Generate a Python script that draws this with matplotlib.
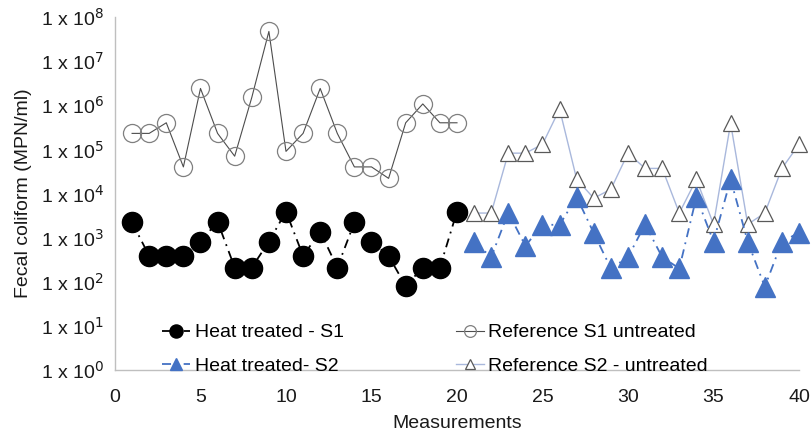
import numpy as np
import matplotlib.pyplot as plt
from matplotlib.ticker import FixedLocator

plt.rcParams['font.family'] = ['Liberation Sans', 'DejaVu Sans']

x_s1 = list(range(1, 21))
x_s2 = list(range(21, 41))

heat_s1 = [2200, 385, 385, 385, 810, 2300, 210, 210, 810, 3900,
           385, 1370, 210, 2200, 810, 385, 80, 210, 210, 3900]
ref_s1 = [2.3e5, 2.3e5, 4e5, 4e4, 2.4e6, 2.3e5, 7e4, 1.5e6, 4.7e7, 9e4,
          2.3e5, 2.4e6, 2.3e5, 4e4, 4e4, 2.2e4, 4e5, 1.07e6, 4e5, 4e5]
heat_s2 = [810, 360, 3700, 650, 1950, 1950, 8300, 1260, 200, 360,
           2000, 360, 200, 8300, 810, 2.1e4, 810, 77, 800, 1300]
ref_s2 = [3600, 3600, 8.2e4, 8.2e4, 1.3e5, 8.2e5, 2.1e4, 7800, 1.25e4, 8.2e4,
          3.7e4, 3.7e4, 3600, 2.1e4, 2000, 3.9e5, 2000, 3600, 3.7e4, 1.3e5]

ytick_vals = [10.0 ** k for k in range(0, 9)]
ytick_labels = [r'1 x 10$^{%d}$' % k for k in range(0, 9)]

fig = plt.figure(figsize=(8.12, 4.34), dpi=100)
ax = fig.add_axes([0.1416, 0.1475, 0.8424, 0.8134])

blue = '#4472c4'
h1, = ax.plot(x_s1, heat_s1, color='black', linestyle=(0, (5, 3, 1, 3)), linewidth=1.3,
              marker='o', markersize=14.5, markerfacecolor='black', markeredgecolor='black',
              label='Heat treated - S1', zorder=3, clip_on=False)
r1, = ax.plot(x_s1, ref_s1, color='#4d4d4d', linestyle='-', linewidth=0.8,
              marker='o', markersize=13, markerfacecolor='none', markeredgecolor='#7f7f7f',
              markeredgewidth=0.9, label='Reference S1 untreated', zorder=2, clip_on=False)
h2, = ax.plot(x_s2, heat_s2, color=blue, linestyle=(0, (5, 3, 1, 3)), linewidth=1.3,
              marker='^', markersize=14, markerfacecolor=blue, markeredgecolor=blue,
              label='Heat treated- S2', zorder=3, clip_on=False)
r2, = ax.plot(x_s2, ref_s2, color='#a9b8dc', linestyle='-', linewidth=1.0,
              marker='^', markersize=12, markerfacecolor='white', markeredgecolor='#595959',
              markeredgewidth=0.9, label='Reference S2 - untreated', zorder=2, clip_on=False)

ax.set_yscale('log')
ax.set_ylim(1, 1e8)
ax.set_xlim(0, 40)
ax.yaxis.set_major_locator(FixedLocator(ytick_vals))
ax.yaxis.set_minor_locator(FixedLocator([]))
ax.set_yticklabels(ytick_labels)
ax.set_xticks(range(0, 41, 5))

ax.tick_params(axis='both', length=0, labelsize=14, colors='#1a1a1a')
ax.tick_params(axis='x', pad=14)
ax.tick_params(axis='y', pad=8)
for side in ['top', 'right']:
    ax.spines[side].set_visible(False)
for side in ['left', 'bottom']:
    ax.spines[side].set_color('#bfbfbf')
    ax.spines[side].set_linewidth(1.0)

ax.set_xlabel('Measurements', fontsize=14, color='#1a1a1a', labelpad=6)
ax.set_ylabel('Fecal coliform (MPN/ml)', fontsize=14, color='#1a1a1a', labelpad=6)

# row-wise order: matplotlib fills legend columns first
ax.legend(handles=[h1, h2, r1, r2], loc='lower left', bbox_to_anchor=(0.058, -0.035),
          borderaxespad=0, ncol=2, frameon=False,
          fontsize=14, markerscale=0.65, handlelength=1.4, handletextpad=0.25,
          columnspacing=5.8, labelspacing=0.8)

fig.savefig('out.png', dpi=100)
